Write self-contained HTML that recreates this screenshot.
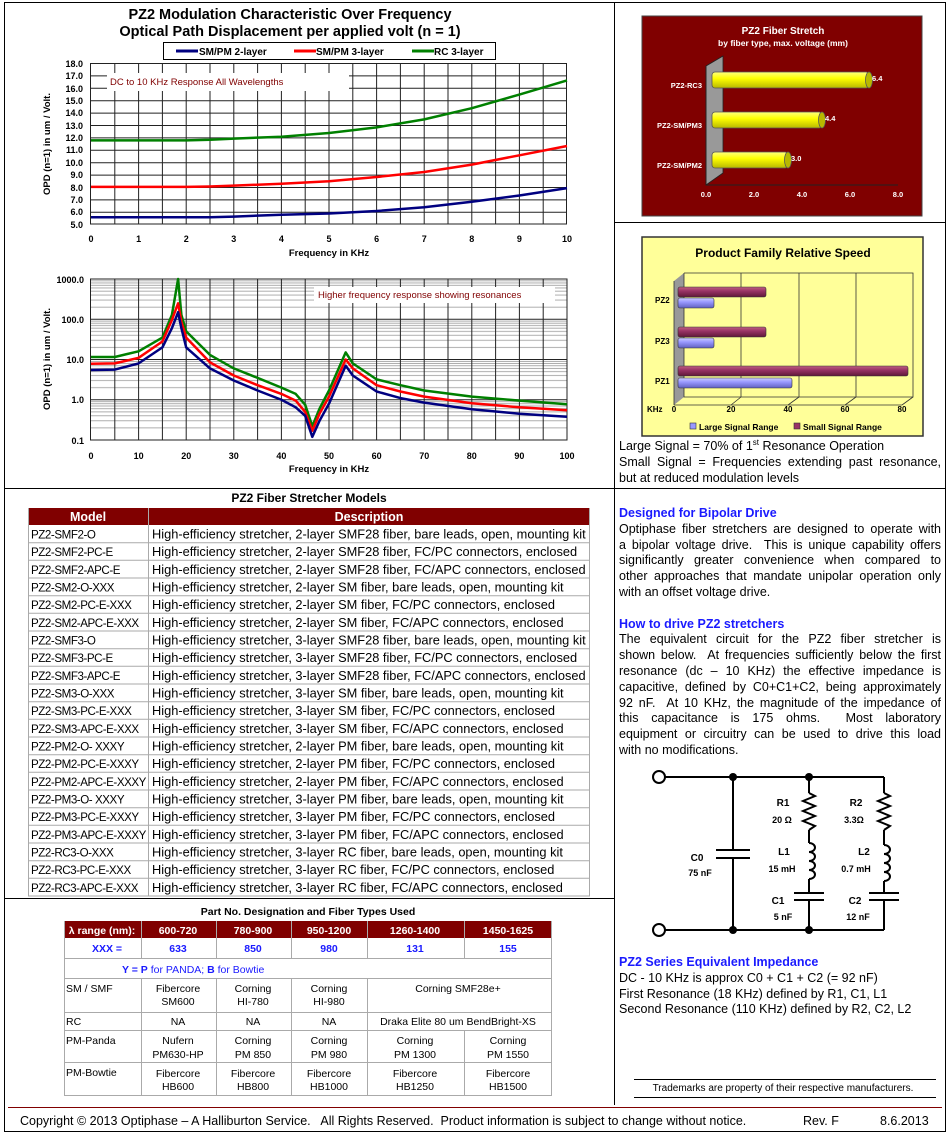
<!DOCTYPE html>
<html><head><meta charset="utf-8"><style>
html,body{margin:0;padding:0;background:#fff}
#wrap{position:relative;width:950px;height:1137px;overflow:hidden}
svg{display:block;font-family:"Liberation Sans",Arial,sans-serif}
.b{font-weight:bold}
.p{position:absolute;left:619px;width:322px;font-family:"Liberation Sans",Arial,sans-serif;font-size:12.5px;line-height:15.8px;color:#000}
.j{text-align:justify;text-align-last:justify;white-space:nowrap;height:15.8px}
.j2{text-align:left;white-space:nowrap;height:15.8px}
.h{color:#1a1aff;font-weight:bold}
</style></head><body><div id="wrap">
<svg width="950" height="1137" viewBox="0 0 950 1137" xmlns="http://www.w3.org/2000/svg">
<defs>
<pattern id="dec" x="0" y="279" width="10" height="40.25" patternUnits="userSpaceOnUse">
<g stroke="#999" stroke-width="0.8">
<line x1="0" x2="10" y1="28.15" y2="28.15"/><line x1="0" x2="10" y1="21.05" y2="21.05"/><line x1="0" x2="10" y1="16.05" y2="16.05"/><line x1="0" x2="10" y1="12.15" y2="12.15"/><line x1="0" x2="10" y1="8.95" y2="8.95"/><line x1="0" x2="10" y1="6.25" y2="6.25"/><line x1="0" x2="10" y1="3.95" y2="3.95"/><line x1="0" x2="10" y1="1.85" y2="1.85"/></g>
</pattern>
<linearGradient id="yel" x1="0" y1="0" x2="0" y2="1"><stop offset="0" stop-color="#ffff80"/><stop offset="0.4" stop-color="#ffff00"/><stop offset="1" stop-color="#b8b800"/></linearGradient>
<linearGradient id="mar" x1="0" y1="0" x2="0" y2="1"><stop offset="0" stop-color="#c06080"/><stop offset="0.4" stop-color="#993366"/><stop offset="1" stop-color="#601838"/></linearGradient>
<linearGradient id="blu" x1="0" y1="0" x2="0" y2="1"><stop offset="0" stop-color="#ccccff"/><stop offset="0.4" stop-color="#9999ff"/><stop offset="1" stop-color="#6060c0"/></linearGradient>
</defs>

<rect x="4.5" y="2.5" width="941" height="1129" fill="none" stroke="#000"/>
<line x1="614.5" y1="2" x2="614.5" y2="1105" stroke="#000"/>
<line x1="614" y1="222.5" x2="946" y2="222.5" stroke="#000"/>
<line x1="4" y1="488.5" x2="946" y2="488.5" stroke="#000"/>
<line x1="4" y1="898.5" x2="614" y2="898.5" stroke="#000"/>
<line x1="8" y1="1107.5" x2="942" y2="1107.5" stroke="#800000"/>

<!-- TOP CHART -->
<text x="290" y="19" font-size="14.5" class="b" text-anchor="middle">PZ2 Modulation Characteristic Over Frequency</text>
<text x="290" y="36" font-size="14.5" class="b" text-anchor="middle">Optical Path Displacement per applied volt (n = 1)</text>
<rect x="163.5" y="42.5" width="332" height="17" fill="#fff" stroke="#000"/>
<line x1="176" y1="51" x2="198" y2="51" stroke="#000080" stroke-width="3"/><text x="199" y="55" font-size="10" class="b">SM/PM 2-layer</text>
<line x1="294" y1="51" x2="316" y2="51" stroke="#ff0000" stroke-width="3"/><text x="316" y="55" font-size="10" class="b">SM/PM 3-layer</text>
<line x1="412" y1="51" x2="434" y2="51" stroke="#008000" stroke-width="3"/><text x="434" y="55" font-size="10" class="b">RC 3-layer</text>
<g stroke="#222" stroke-width="1">
<rect x="90.5" y="63.5" width="476" height="160.5" fill="#fff"/>
<line x1="90" x2="567" y1="75.9" y2="75.9"/><line x1="90" x2="567" y1="88.3" y2="88.3"/><line x1="90" x2="567" y1="100.7" y2="100.7"/><line x1="90" x2="567" y1="113.1" y2="113.1"/><line x1="90" x2="567" y1="125.5" y2="125.5"/><line x1="90" x2="567" y1="137.9" y2="137.9"/><line x1="90" x2="567" y1="150.3" y2="150.3"/><line x1="90" x2="567" y1="162.7" y2="162.7"/><line x1="90" x2="567" y1="175.1" y2="175.1"/><line x1="90" x2="567" y1="187.5" y2="187.5"/><line x1="90" x2="567" y1="199.9" y2="199.9"/><line x1="90" x2="567" y1="212.3" y2="212.3"/>
<line y1="63" y2="224" x1="114.8" x2="114.8"/><line y1="63" y2="224" x1="138.6" x2="138.6"/><line y1="63" y2="224" x1="162.4" x2="162.4"/><line y1="63" y2="224" x1="186.2" x2="186.2"/><line y1="63" y2="224" x1="210" x2="210"/><line y1="63" y2="224" x1="233.8" x2="233.8"/><line y1="63" y2="224" x1="257.6" x2="257.6"/><line y1="63" y2="224" x1="281.4" x2="281.4"/><line y1="63" y2="224" x1="305.2" x2="305.2"/><line y1="63" y2="224" x1="329" x2="329"/><line y1="63" y2="224" x1="352.8" x2="352.8"/><line y1="63" y2="224" x1="376.6" x2="376.6"/><line y1="63" y2="224" x1="400.4" x2="400.4"/><line y1="63" y2="224" x1="424.2" x2="424.2"/><line y1="63" y2="224" x1="448" x2="448"/><line y1="63" y2="224" x1="471.8" x2="471.8"/><line y1="63" y2="224" x1="495.6" x2="495.6"/><line y1="63" y2="224" x1="519.4" x2="519.4"/><line y1="63" y2="224" x1="543.2" x2="543.2"/>
</g>
<rect x="107" y="73" width="242" height="18" fill="#fff"/>
<text x="110" y="85" font-size="9.5" fill="#800000">DC to 10 KHz Response All Wavelengths</text>
<g fill="none" stroke-width="2.5" stroke-linejoin="round">
<polyline stroke="#000080" points="91,217.2 138.6,217.2 186.2,217.2 210,217.2 233.8,216.6 281.4,214.7 329,213.5 376.6,211 424.2,207.3 471.8,201.7 519.4,195.5 567,188.1"/>
<polyline stroke="#ff0000" points="91,186.9 138.6,186.9 186.2,186.9 210,186.5 233.8,185.6 281.4,183.8 329,181.3 376.6,177 424.2,172 471.8,164.6 519.4,155.3 567,146"/>
<polyline stroke="#008000" points="91,140.4 138.6,140.4 186.2,140.4 210,139.8 233.8,138.6 281.4,136.7 329,133 376.6,127.4 424.2,119.4 471.8,108.2 519.4,94.6 567,80.4"/>
</g>
<g font-size="9" class="b" text-anchor="end">
<text x="83" y="67">18.0</text><text x="83" y="79">17.0</text><text x="83" y="92">16.0</text><text x="83" y="104">15.0</text><text x="83" y="116">14.0</text><text x="83" y="129">13.0</text><text x="83" y="141">12.0</text><text x="83" y="153">11.0</text><text x="83" y="166">10.0</text><text x="83" y="178">9.0</text><text x="83" y="191">8.0</text><text x="83" y="203">7.0</text><text x="83" y="215">6.0</text><text x="83" y="228">5.0</text>
</g>
<g font-size="9" class="b" text-anchor="middle">
<text x="91" y="242">0</text><text x="138.6" y="242">1</text><text x="186.2" y="242">2</text><text x="233.8" y="242">3</text><text x="281.4" y="242">4</text><text x="329" y="242">5</text><text x="376.6" y="242">6</text><text x="424.2" y="242">7</text><text x="471.8" y="242">8</text><text x="519.4" y="242">9</text><text x="567" y="242">10</text>
</g>
<text x="329" y="256" font-size="9.5" class="b" text-anchor="middle">Frequency in KHz</text>
<text transform="translate(50,144) rotate(-90)" font-size="9.5" class="b" text-anchor="middle">OPD (n=1) in um / Volt.</text>

<!-- BOTTOM CHART -->
<rect x="91" y="279" width="476" height="161" fill="#fff"/>
<rect x="91" y="279" width="476" height="161" fill="url(#dec)"/>
<g stroke="#222" stroke-width="1">
<line x1="91" x2="567" y1="319.25" y2="319.25"/><line x1="91" x2="567" y1="359.5" y2="359.5"/><line x1="91" x2="567" y1="399.75" y2="399.75"/>
<line y1="279" y2="440" x1="114.8" x2="114.8"/><line y1="279" y2="440" x1="138.6" x2="138.6"/><line y1="279" y2="440" x1="162.4" x2="162.4"/><line y1="279" y2="440" x1="186.2" x2="186.2"/><line y1="279" y2="440" x1="210" x2="210"/><line y1="279" y2="440" x1="233.8" x2="233.8"/><line y1="279" y2="440" x1="257.6" x2="257.6"/><line y1="279" y2="440" x1="281.4" x2="281.4"/><line y1="279" y2="440" x1="305.2" x2="305.2"/><line y1="279" y2="440" x1="329" x2="329"/><line y1="279" y2="440" x1="352.8" x2="352.8"/><line y1="279" y2="440" x1="376.6" x2="376.6"/><line y1="279" y2="440" x1="400.4" x2="400.4"/><line y1="279" y2="440" x1="424.2" x2="424.2"/><line y1="279" y2="440" x1="448" x2="448"/><line y1="279" y2="440" x1="471.8" x2="471.8"/><line y1="279" y2="440" x1="495.6" x2="495.6"/><line y1="279" y2="440" x1="519.4" x2="519.4"/><line y1="279" y2="440" x1="543.2" x2="543.2"/>
<rect x="90.5" y="279" width="476.5" height="161" fill="none"/>
</g>
<rect x="314" y="287" width="241" height="16" fill="#fff"/>
<text x="318" y="298" font-size="9.5" fill="#800000">Higher frequency response showing resonances</text>
<g fill="none" stroke-width="2.5" stroke-linejoin="round">
<polyline stroke="#008000" points="91,357 114.8,357 138.6,351.3 162.4,337.6 171.9,315 178.1,279 181.4,315 186.2,331.4 210,354.9 233.8,368.4 257.6,377.9 281.4,387.6 295.7,393.9 305.2,404.8 312.3,426.2 319.5,408.7 329,390.5 345.7,352.4 352.8,363.4 376.6,379.4 400.4,385.2 424.2,390.5 471.8,396.6 519.4,400.6 567,404.3"/>
<polyline stroke="#ff0000" points="91,363.8 114.8,363.4 138.6,357.8 162.4,341.5 171.9,320 178.1,303.3 181.4,322 186.2,337.6 210,362.4 233.8,375.5 257.6,385.2 281.4,393.9 295.7,400.6 305.2,411.9 312.3,430.7 319.5,413.7 329,396.6 345.7,359.5 352.8,368.4 376.6,385.2 400.4,391.5 424.2,396.6 471.8,403.2 519.4,407.3 567,410.2"/>
<polyline stroke="#000080" points="91,370 114.8,369.6 138.6,363.4 162.4,347.4 171.9,328.2 178.1,312.2 181.4,328.2 186.2,347.4 210,368.4 233.8,380.5 257.6,390.5 281.4,399.75 295.7,407.3 305.2,415.8 312.3,436.8 319.5,420.8 329,403.7 345.7,365.7 352.8,375.5 376.6,391.5 400.4,398.1 424.2,402.6 471.8,409.3 519.4,413.7 567,416.7"/>
</g>
<g font-size="9" class="b" text-anchor="end">
<text x="84" y="283">1000.0</text><text x="84" y="323">100.0</text><text x="84" y="363">10.0</text><text x="84" y="403">1.0</text><text x="84" y="444">0.1</text>
</g>
<g font-size="9" class="b" text-anchor="middle">
<text x="91" y="459">0</text><text x="138.6" y="459">10</text><text x="186.2" y="459">20</text><text x="233.8" y="459">30</text><text x="281.4" y="459">40</text><text x="329" y="459">50</text><text x="376.6" y="459">60</text><text x="424.2" y="459">70</text><text x="471.8" y="459">80</text><text x="519.4" y="459">90</text><text x="567" y="459">100</text>
</g>
<text x="329" y="472" font-size="9.5" class="b" text-anchor="middle">Frequency in KHz</text>
<text transform="translate(50,359) rotate(-90)" font-size="9.5" class="b" text-anchor="middle">OPD (n=1) in um / Volt.</text>

<!-- FIBER STRETCH -->
<rect x="642" y="16" width="280" height="200" fill="#800000" stroke="#444"/>
<text x="783" y="34" font-size="10" class="b" fill="#fff" text-anchor="middle">PZ2 Fiber Stretch</text>
<text x="783" y="46" font-size="8.5" class="b" fill="#fff" text-anchor="middle">by fiber type, max. voltage (mm)</text>
<polygon points="706,66 723,56 723,173 706,185" fill="#999" stroke="#222" stroke-width="0.8"/>
<line x1="706" y1="66" x2="706" y2="185" stroke="#222"/>
<line x1="706" y1="185" x2="898" y2="185" stroke="#222"/>
<g stroke="#555" stroke-width="0.8" fill="url(#yel)">
<rect x="712" y="72" width="157" height="16" rx="3"/><ellipse cx="869" cy="80" rx="3.5" ry="8" fill="#b8b800"/>
<rect x="712" y="112" width="110" height="16" rx="3"/><ellipse cx="822" cy="120" rx="3.5" ry="8" fill="#b8b800"/>
<rect x="712" y="152" width="76" height="16" rx="3"/><ellipse cx="788" cy="160" rx="3.5" ry="8" fill="#b8b800"/>
</g>
<g font-size="7.5" class="b" fill="#fff">
<text x="872" y="81">6.4</text><text x="825" y="121">4.4</text><text x="791" y="161">3.0</text>
<g text-anchor="end"><text x="702" y="88">PZ2-RC3</text><text x="702" y="128">PZ2-SM/PM3</text><text x="702" y="168">PZ2-SM/PM2</text></g>
<g text-anchor="middle"><text x="706" y="197">0.0</text><text x="754" y="197">2.0</text><text x="802" y="197">4.0</text><text x="850" y="197">6.0</text><text x="898" y="197">8.0</text></g>
</g>

<!-- SPEED CHART -->
<rect x="642" y="237" width="281" height="199" fill="#ffff99" stroke="#333" stroke-width="1.5"/>
<text x="783" y="257" font-size="12" class="b" text-anchor="middle">Product Family Relative Speed</text>
<polygon points="674,405 684,397 684,273 674,281" fill="#999"/>
<g stroke="#333" stroke-width="0.8" fill="none">
<polyline points="684,273 913,273 913,397 684,397 684,273"/>
<line x1="741" y1="273" x2="741" y2="397"/><line x1="799" y1="273" x2="799" y2="397"/><line x1="856" y1="273" x2="856" y2="397"/>
<line x1="674" y1="405" x2="902" y2="405"/><line x1="902" y1="405" x2="913" y2="397"/><line x1="674" y1="281" x2="674" y2="405"/>
<line x1="731" y1="405" x2="741" y2="397"/><line x1="788" y1="405" x2="799" y2="397"/><line x1="845" y1="405" x2="856" y2="397"/>
</g>
<g stroke="#333" stroke-width="0.6">
<rect x="678" y="287" width="88" height="10" rx="2" fill="url(#mar)"/>
<rect x="678" y="298" width="36" height="10" rx="2" fill="url(#blu)"/>
<rect x="678" y="327" width="88" height="10" rx="2" fill="url(#mar)"/>
<rect x="678" y="338" width="36" height="10" rx="2" fill="url(#blu)"/>
<rect x="678" y="366" width="230" height="10" rx="2" fill="url(#mar)"/>
<rect x="678" y="378" width="114" height="10" rx="2" fill="url(#blu)"/>
</g>
<g font-size="8" class="b">
<text x="655" y="303">PZ2</text><text x="655" y="344">PZ3</text><text x="655" y="384">PZ1</text>
<text x="647" y="412">KHz</text>
<g text-anchor="middle"><text x="674" y="412">0</text><text x="731" y="412">20</text><text x="788" y="412">40</text><text x="845" y="412">60</text><text x="902" y="412">80</text></g>
</g>
<rect x="690" y="423" width="6" height="6" fill="#9999ff" stroke="#333" stroke-width="0.6"/>
<text x="699" y="430" font-size="8.5" class="b">Large Signal Range</text>
<rect x="794" y="423" width="6" height="6" fill="#993366" stroke="#333" stroke-width="0.6"/>
<text x="803" y="430" font-size="8.5" class="b">Small Signal Range</text>

<!-- MODELS TABLE -->
<text x="309" y="502" font-size="12" class="b" text-anchor="middle">PZ2 Fiber Stretcher Models</text>
<rect x="28" y="508" width="562" height="17" fill="#800000"/>
<text x="88" y="521" font-size="12.5" class="b" fill="#fff" text-anchor="middle">Model</text>
<text x="369" y="521" font-size="12.5" class="b" fill="#fff" text-anchor="middle">Description</text>
<g stroke="#aaa" stroke-width="1">
<line x1="148.5" y1="508" x2="148.5" y2="896"/><line x1="28.5" y1="508" x2="28.5" y2="896"/><line x1="589.5" y1="508" x2="589.5" y2="896"/>
<line x1="28" x2="590" y1="542.7" y2="542.7"/><line x1="28" x2="590" y1="560.3" y2="560.3"/><line x1="28" x2="590" y1="578" y2="578"/><line x1="28" x2="590" y1="595.7" y2="595.7"/><line x1="28" x2="590" y1="613.3" y2="613.3"/><line x1="28" x2="590" y1="631" y2="631"/><line x1="28" x2="590" y1="648.7" y2="648.7"/><line x1="28" x2="590" y1="666.3" y2="666.3"/><line x1="28" x2="590" y1="684" y2="684"/><line x1="28" x2="590" y1="701.7" y2="701.7"/><line x1="28" x2="590" y1="719.3" y2="719.3"/><line x1="28" x2="590" y1="737" y2="737"/><line x1="28" x2="590" y1="754.7" y2="754.7"/><line x1="28" x2="590" y1="772.3" y2="772.3"/><line x1="28" x2="590" y1="790" y2="790"/><line x1="28" x2="590" y1="807.7" y2="807.7"/><line x1="28" x2="590" y1="825.3" y2="825.3"/><line x1="28" x2="590" y1="843" y2="843"/><line x1="28" x2="590" y1="860.7" y2="860.7"/><line x1="28" x2="590" y1="878.3" y2="878.3"/><line x1="28" x2="590" y1="896" y2="896"/>
</g>
<g font-size="11.6" letter-spacing="-0.45">
<text x="31" y="538.5">PZ2-SMF2-O</text><text x="31" y="556.2">PZ2-SMF2-PC-E</text><text x="31" y="573.9">PZ2-SMF2-APC-E</text><text x="31" y="591.5">PZ2-SM2-O-XXX</text><text x="31" y="609.2">PZ2-SM2-PC-E-XXX</text><text x="31" y="626.9">PZ2-SM2-APC-E-XXX</text><text x="31" y="644.5">PZ2-SMF3-O</text><text x="31" y="662.2">PZ2-SMF3-PC-E</text><text x="31" y="679.9">PZ2-SMF3-APC-E</text><text x="31" y="697.5">PZ2-SM3-O-XXX</text><text x="31" y="715.2">PZ2-SM3-PC-E-XXX</text><text x="31" y="732.9">PZ2-SM3-APC-E-XXX</text><text x="31" y="750.5">PZ2-PM2-O- XXXY</text><text x="31" y="768.2">PZ2-PM2-PC-E-XXXY</text><text x="31" y="785.9">PZ2-PM2-APC-E-XXXY</text><text x="31" y="803.5">PZ2-PM3-O- XXXY</text><text x="31" y="821.2">PZ2-PM3-PC-E-XXXY</text><text x="31" y="838.9">PZ2-PM3-APC-E-XXXY</text><text x="31" y="856.5">PZ2-RC3-O-XXX</text><text x="31" y="874.2">PZ2-RC3-PC-E-XXX</text><text x="31" y="891.9">PZ2-RC3-APC-E-XXX</text>
</g>
<g font-size="12.8">
<text x="152" y="538.5">High-efficiency stretcher, 2-layer SMF28 fiber, bare leads, open, mounting kit</text>
<text x="152" y="556.2">High-efficiency stretcher, 2-layer SMF28 fiber, FC/PC connectors, enclosed</text>
<text x="152" y="573.9">High-efficiency stretcher, 2-layer SMF28 fiber, FC/APC connectors, enclosed</text>
<text x="152" y="591.5">High-efficiency stretcher, 2-layer SM fiber, bare leads, open, mounting kit</text>
<text x="152" y="609.2">High-efficiency stretcher, 2-layer SM fiber, FC/PC connectors, enclosed</text>
<text x="152" y="626.9">High-efficiency stretcher, 2-layer SM fiber, FC/APC connectors, enclosed</text>
<text x="152" y="644.5">High-efficiency stretcher, 3-layer SMF28 fiber, bare leads, open, mounting kit</text>
<text x="152" y="662.2">High-efficiency stretcher, 3-layer SMF28 fiber, FC/PC connectors, enclosed</text>
<text x="152" y="679.9">High-efficiency stretcher, 3-layer SMF28 fiber, FC/APC connectors, enclosed</text>
<text x="152" y="697.5">High-efficiency stretcher, 3-layer SM fiber, bare leads, open, mounting kit</text>
<text x="152" y="715.2">High-efficiency stretcher, 3-layer SM fiber, FC/PC connectors, enclosed</text>
<text x="152" y="732.9">High-efficiency stretcher, 3-layer SM fiber, FC/APC connectors, enclosed</text>
<text x="152" y="750.5">High-efficiency stretcher, 2-layer PM fiber, bare leads, open, mounting kit</text>
<text x="152" y="768.2">High-efficiency stretcher, 2-layer PM fiber, FC/PC connectors, enclosed</text>
<text x="152" y="785.9">High-efficiency stretcher, 2-layer PM fiber, FC/APC connectors, enclosed</text>
<text x="152" y="803.5">High-efficiency stretcher, 3-layer PM fiber, bare leads, open, mounting kit</text>
<text x="152" y="821.2">High-efficiency stretcher, 3-layer PM fiber, FC/PC connectors, enclosed</text>
<text x="152" y="838.9">High-efficiency stretcher, 3-layer PM fiber, FC/APC connectors, enclosed</text>
<text x="152" y="856.5">High-efficiency stretcher, 3-layer RC fiber, bare leads, open, mounting kit</text>
<text x="152" y="874.2">High-efficiency stretcher, 3-layer RC fiber, FC/PC connectors, enclosed</text>
<text x="152" y="891.9">High-efficiency stretcher, 3-layer RC fiber, FC/APC connectors, enclosed</text>
</g>

<!-- PART NO TABLE -->
<text x="308" y="915" font-size="10.5" class="b" text-anchor="middle">Part No. Designation and Fiber Types Used</text>
<rect x="64" y="921" width="488" height="17" fill="#800000"/>
<g font-size="10.5" class="b" fill="#fff" text-anchor="middle">
<text x="102" y="934">λ range (nm):</text><text x="178" y="934">600-720</text><text x="253" y="934">780-900</text><text x="329" y="934">950-1200</text><text x="415" y="934">1260-1400</text><text x="508" y="934">1450-1625</text>
</g>
<g stroke="#aaa">
<line x1="141.5" y1="921" x2="141.5" y2="958"/><line x1="216.5" y1="921" x2="216.5" y2="958"/><line x1="291.5" y1="921" x2="291.5" y2="958"/><line x1="367.5" y1="921" x2="367.5" y2="958"/><line x1="464.5" y1="921" x2="464.5" y2="958"/>
<line x1="141.5" y1="978" x2="141.5" y2="1095"/><line x1="216.5" y1="978" x2="216.5" y2="1095"/><line x1="291.5" y1="978" x2="291.5" y2="1095"/><line x1="367.5" y1="978" x2="367.5" y2="1095"/><line x1="464.5" y1="1030" x2="464.5" y2="1095"/>
<line x1="64.5" y1="921" x2="64.5" y2="1095"/><line x1="551.5" y1="921" x2="551.5" y2="1095"/>
<line x1="64" x2="552" y1="958.5" y2="958.5"/><line x1="64" x2="552" y1="978.5" y2="978.5"/><line x1="64" x2="552" y1="1012.5" y2="1012.5"/><line x1="64" x2="552" y1="1030.5" y2="1030.5"/><line x1="64" x2="552" y1="1062.5" y2="1062.5"/><line x1="64" x2="552" y1="1095.5" y2="1095.5"/>
</g>
<g font-size="10.5" class="b" fill="#1a1aff" text-anchor="middle">
<text x="122" y="952" text-anchor="end">XXX =</text><text x="178" y="952">633</text><text x="253" y="952">850</text><text x="329" y="952">980</text><text x="415" y="952">131</text><text x="508" y="952">155</text>
</g>
<text x="122" y="973" font-size="10.5" fill="#1a1aff"><tspan class="b">Y = P</tspan> for PANDA; <tspan class="b">B</tspan> for Bowtie</text>
<g font-size="10.5">
<text x="66" y="992">SM / SMF</text><text x="66" y="1025">RC</text><text x="66" y="1044">PM-Panda</text><text x="66" y="1076">PM-Bowtie</text>
<g text-anchor="middle">
<text x="178" y="992">Fibercore</text><text x="178" y="1005">SM600</text><text x="253" y="992">Corning</text><text x="253" y="1005">HI-780</text><text x="329" y="992">Corning</text><text x="329" y="1005">HI-980</text><text x="458" y="992">Corning SMF28e+</text>
<text x="178" y="1025">NA</text><text x="253" y="1025">NA</text><text x="329" y="1025">NA</text><text x="458" y="1025">Draka Elite 80 um BendBright-XS</text>
<text x="178" y="1044">Nufern</text><text x="178" y="1058">PM630-HP</text><text x="253" y="1044">Corning</text><text x="253" y="1058">PM 850</text><text x="329" y="1044">Corning</text><text x="329" y="1058">PM 980</text><text x="415" y="1044">Corning</text><text x="415" y="1058">PM 1300</text><text x="508" y="1044">Corning</text><text x="508" y="1058">PM 1550</text>
<text x="178" y="1077">Fibercore</text><text x="178" y="1090">HB600</text><text x="253" y="1077">Fibercore</text><text x="253" y="1090">HB800</text><text x="329" y="1077">Fibercore</text><text x="329" y="1090">HB1000</text><text x="415" y="1077">Fibercore</text><text x="415" y="1090">HB1250</text><text x="508" y="1077">Fibercore</text><text x="508" y="1090">HB1500</text>
</g></g>

<!-- CIRCUIT -->
<g stroke="#000" stroke-width="2" fill="none">
<line x1="665" y1="777" x2="884" y2="777"/><line x1="665" y1="930" x2="884" y2="930"/>
<circle cx="659" cy="777" r="6" fill="#fff"/><circle cx="659" cy="930" r="6" fill="#fff"/>
<line x1="733" y1="777" x2="733" y2="850"/><line x1="733" y1="858" x2="733" y2="930"/>
<line x1="716" y1="850" x2="750" y2="850"/><line x1="716" y1="858" x2="750" y2="858"/>
<line x1="809" y1="777" x2="809" y2="793"/>
<polyline points="809,793 815,796 803,801 815,806 803,811 815,816 803,821 815,826 809,830"/>
<line x1="809" y1="830" x2="809" y2="843"/>
<path d="M809,843 a6,4.5 0 1 1 0,9 a6,4.5 0 1 1 0,9 a6,4.5 0 1 1 0,9 a6,4.5 0 1 1 0,9"/>
<line x1="809" y1="879" x2="809" y2="893"/>
<line x1="794" y1="893" x2="824" y2="893"/><line x1="794" y1="900" x2="824" y2="900"/>
<line x1="809" y1="900" x2="809" y2="930"/>
<line x1="884" y1="777" x2="884" y2="793"/>
<polyline points="884,793 890,796 878,801 890,806 878,811 890,816 878,821 890,826 884,830"/>
<line x1="884" y1="830" x2="884" y2="845"/>
<path d="M884,845 a6,4.5 0 1 1 0,9 a6,4.5 0 1 1 0,9 a6,4.5 0 1 1 0,9 a6,4.5 0 1 1 0,9"/>
<line x1="884" y1="881" x2="884" y2="893"/>
<line x1="869" y1="893" x2="899" y2="893"/><line x1="869" y1="900" x2="899" y2="900"/>
<line x1="884" y1="900" x2="884" y2="930"/>
</g>
<g fill="#000"><circle cx="733" cy="777" r="4"/><circle cx="809" cy="777" r="4"/><circle cx="733" cy="930" r="4"/><circle cx="809" cy="930" r="4"/></g>
<g font-size="10" class="b" text-anchor="middle">
<text x="697" y="861">C0</text><text x="700" y="876" font-size="9">75 nF</text>
<text x="783" y="806">R1</text><text x="782" y="823" font-size="9">20 Ω</text>
<text x="784" y="855">L1</text><text x="782" y="872" font-size="9">15 mH</text>
<text x="778" y="904">C1</text><text x="783" y="920" font-size="9">5 nF</text>
<text x="856" y="806">R2</text><text x="854" y="823" font-size="9">3.3Ω</text>
<text x="864" y="855">L2</text><text x="856" y="872" font-size="9">0.7 mH</text>
<text x="855" y="904">C2</text><text x="858" y="920" font-size="9">12 nF</text>
</g>

<line x1="634" y1="1079.5" x2="936" y2="1079.5" stroke="#000"/>
<text x="783" y="1091" font-size="10" text-anchor="middle">Trademarks are property of their respective manufacturers.</text>
<line x1="634" y1="1097.5" x2="936" y2="1097.5" stroke="#000"/>

<text x="20" y="1125" font-size="12.5" xml:space="preserve">Copyright © 2013 Optiphase – A Halliburton Service.   All Rights Reserved.  Product information is subject to change without notice.</text>
<text x="803" y="1125" font-size="12.5">Rev. F</text>
<text x="880" y="1125" font-size="12.5">8.6.2013</text>
</svg>

<div class="p" style="top:439px">
<div class="j2">Large Signal = 70% of 1<sup style="font-size:8px;line-height:0">st</sup> Resonance Operation</div>
<div class="j">Small Signal = Frequencies extending past resonance,</div>
<div class="j2">but at reduced modulation levels</div>
</div>
<div class="p" style="top:506px">
<div class="j2 h">Designed for Bipolar Drive</div>
<div class="j">Optiphase fiber stretchers are designed to operate with</div>
<div class="j">a bipolar voltage drive.&nbsp; This is unique capability offers</div>
<div class="j">significantly greater convenience when compared to</div>
<div class="j">other approaches that mandate unipolar operation only</div>
<div class="j2">with an offset voltage drive.</div>
<div class="j2">&nbsp;</div>
<div class="j2 h">How to drive PZ2 stretchers</div>
<div class="j">The equivalent circuit for the PZ2 fiber stretcher is</div>
<div class="j">shown below.&nbsp; At frequencies sufficiently below the first</div>
<div class="j">resonance (dc – 10 KHz) the effective impedance is</div>
<div class="j">capacitive, defined by C0+C1+C2, being approximately</div>
<div class="j">92 nF.&nbsp; At 10 KHz, the magnitude of the impedance of</div>
<div class="j">this capacitance is 175 ohms.&nbsp; Most laboratory</div>
<div class="j">equipment or circuitry can be used to drive this load</div>
<div class="j2">with no modifications.</div>
</div>
<div class="p" style="top:955px">
<div class="j2 h">PZ2 Series Equivalent Impedance</div>
<div class="j2">DC - 10 KHz is approx C0 + C1 + C2 (= 92 nF)</div>
<div class="j2">First Resonance (18 KHz) defined by R1, C1, L1</div>
<div class="j2">Second Resonance (110 KHz) defined by R2, C2, L2</div>
</div>
</div></body></html>
